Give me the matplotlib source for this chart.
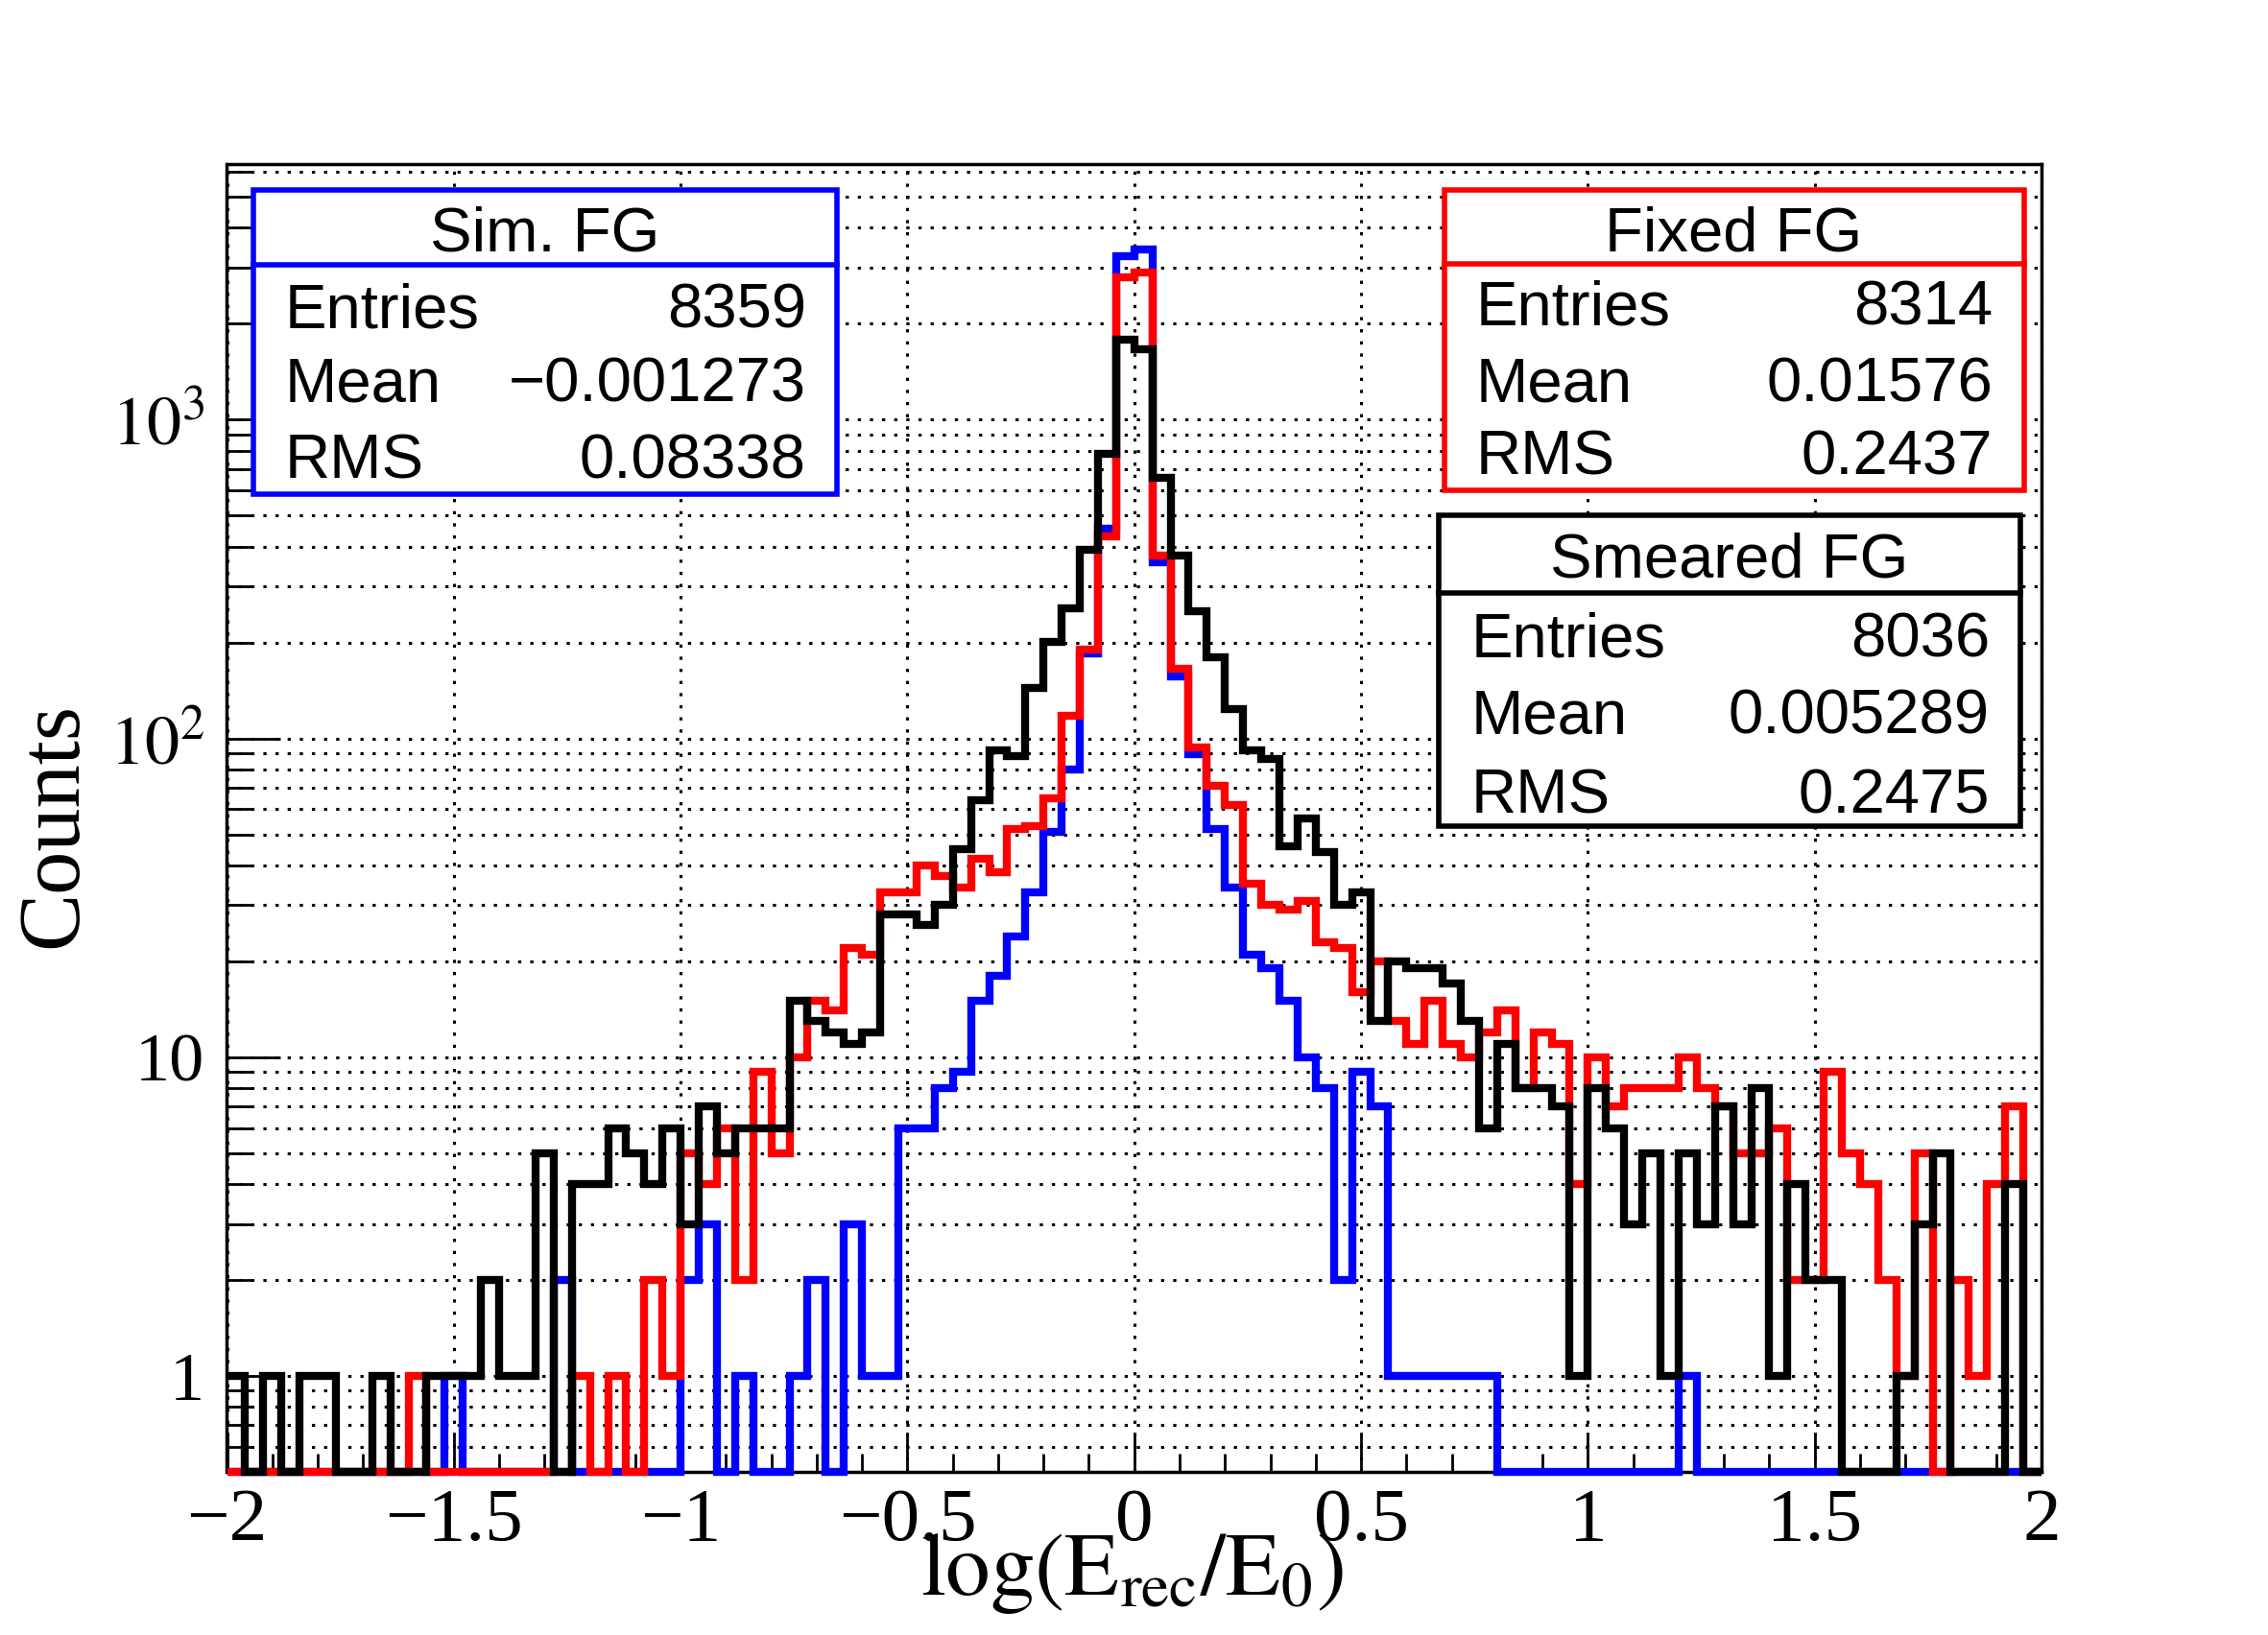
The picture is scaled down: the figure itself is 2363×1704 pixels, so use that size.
import numpy as np
import matplotlib
matplotlib.use('Agg')
import matplotlib.pyplot as plt
from matplotlib.ticker import FixedLocator, FixedFormatter, MultipleLocator, LogLocator, NullFormatter
from matplotlib.patches import Rectangle
from matplotlib.lines import Line2D

# 100 bins between -2 and 2
x_lo, x_hi, n_bins = -2.0, 2.0, 100

sim_fg = [0, 0, 0, 0, 0, 0, 0, 0, 0, 0,
          0, 0, 1, 0, 0, 0, 0, 0, 2, 0,
          0, 0, 0, 0, 0, 2, 3, 0, 1, 0,
          0, 1, 2, 0, 3, 1, 1, 6, 6, 8,
          9, 15, 18, 24, 33, 51, 80, 185, 456, 3258,
          3414, 356, 157, 89, 52, 34, 21, 19, 15, 10,
          8, 2, 9, 7, 1, 1, 1, 1, 1, 1,
          0, 0, 0, 0, 0, 0, 0, 0, 0, 0,
          1, 0, 0, 0, 0, 0, 0, 0, 0, 0,
          0, 0, 0, 0, 0, 0, 0, 0, 0, 0]

fixed_fg = [0, 0, 0, 0, 0, 0, 0, 0, 0, 0,
            1, 0, 0, 0, 0, 0, 0, 0, 0, 1,
            0, 1, 0, 2, 1, 5, 4, 6, 2, 9,
            5, 10, 15, 14, 22, 21, 33, 33, 40, 37,
            34, 42, 38, 52, 53, 65, 118, 190, 430, 2803,
            2900, 374, 165, 94, 71, 62, 35, 30, 29, 31,
            23, 22, 16, 20, 13, 11, 15, 11, 10, 12,
            14, 8, 12, 11, 4, 10, 7, 8, 8, 8,
            10, 8, 7, 5, 5, 6, 2, 2, 9, 5,
            4, 2, 1, 5, 0, 2, 1, 4, 7, 0]

smeared_fg = [1, 0, 1, 0, 1, 1, 0, 0, 1, 0,
              0, 1, 1, 1, 2, 1, 1, 5, 0, 4,
              4, 6, 5, 4, 6, 3, 7, 5, 6, 6,
              6, 15, 13, 12, 11, 12, 28, 28, 26, 30,
              45, 64, 92, 88, 144, 201, 256, 392, 784, 1786,
              1667, 659, 375, 250, 180, 124, 92, 86, 46, 56,
              44, 30, 33, 13, 20, 19, 19, 17, 13, 6,
              11, 8, 8, 7, 1, 8, 6, 3, 5, 1,
              5, 3, 7, 3, 8, 1, 4, 2, 2, 0,
              0, 0, 1, 3, 5, 0, 0, 0, 4, 0]

box_titles = ['Sim. FG', 'Fixed FG', 'Smeared FG']
box_entries = [8359, 8314, 8036]
box_means = [-0.001273, 0.01576, 0.005289]
box_rms = [0.08338, 0.2437, 0.2475]

xtick_vals = [-2, -1.5, -1, -0.5, 0, 0.5, 1, 1.5, 2]
xtick_text = ['\u22122', '\u22121.5', '\u22121', '\u22120.5', '0', '0.5', '1', '1.5', '2']
ytick_vals = [1, 10, 100, 1000]
ytick_text = ['1', '10', r'$10^{2}$', r'$10^{3}$']

plt.rcParams['font.family'] = 'Liberation Serif'
plt.rcParams['mathtext.fontset'] = 'stix'
plt.rcParams['lines.scale_dashes'] = False

W, H = 2363, 1704
fig = plt.figure(figsize=(W / 100, H / 100), dpi=100)
ax = fig.add_axes([236.5 / W, 1 - 1534 / H, (2127 - 236.5) / W, (1534 - 171) / H])

y_bottom, y_top = 0.5, 6340
edges = np.linspace(x_lo, x_hi, n_bins + 1)

# empty bins sit on the bottom of the frame, like ROOT does
for vals, col, z in [(sim_fg, 'blue', 3), (fixed_fg, 'red', 4), (smeared_fg, 'black', 5)]:
    v = np.asarray(vals, dtype=float)
    ax.stairs(np.where(v > 0, v, y_bottom), edges, baseline=None, color=col,
              lw=6, zorder=z, clip_on=False)

ax.set_yscale('log')
ax.set_xlim(x_lo, x_hi)
ax.set_ylim(y_bottom, y_top)

ax.xaxis.set_major_locator(FixedLocator(xtick_vals))
ax.xaxis.set_major_formatter(FixedFormatter(xtick_text))
ax.xaxis.set_minor_locator(MultipleLocator(0.1))
ax.yaxis.set_major_locator(FixedLocator(ytick_vals))
ax.yaxis.set_major_formatter(FixedFormatter(ytick_text))
ax.yaxis.set_minor_locator(LogLocator(base=10, subs=np.arange(2, 10), numticks=20))
ax.yaxis.set_minor_formatter(NullFormatter())

ax.tick_params(axis='x', which='major', direction='in', length=28, width=2,
               labelsize=57, pad=12, top=False)
ax.tick_params(axis='x', which='minor', direction='in', length=14, width=2, top=False)
ax.tick_params(axis='y', which='major', direction='in', length=40, width=2,
               labelsize=52, pad=17, right=False)
ax.tick_params(axis='y', which='minor', direction='in', length=19.5, width=2, right=False)

dots = (0, (2.4, 6.7))
ax.set_axisbelow(True)
ax.grid(True, which='major', axis='x', color='black', lw=2.2, linestyle=dots)
ax.grid(True, which='both', axis='y', color='black', lw=2.2, linestyle=dots)
for s in ax.spines.values():
    s.set_linewidth(2.5)

# axis titles
fig.text(57 / W, 1 - 860 / H, 'Counts', rotation=90, ha='center', va='center',
         fontsize=65, family='Liberation Serif')
fig.text(1180 / W, 1 - 1662 / H, r'$\mathrm{log(E_{rec}/E_{0})}$', ha='center',
         va='baseline', fontsize=67)


def fmt(x):
    return f'{x:.4g}'.replace('-', '\u2212')


def stat_box(i, color, x0, x1, ytop, ybot, ydiv, title_base, row_bases, xl, xr):
    fig.add_artist(Rectangle((x0 / W, 1 - ybot / H), (x1 - x0) / W, (ybot - ytop) / H,
                             transform=fig.transFigure, facecolor='white',
                             edgecolor=color, lw=4, zorder=10))
    fig.add_artist(Line2D([x0 / W, x1 / W], [1 - ydiv / H, 1 - ydiv / H],
                          transform=fig.transFigure, color=color, lw=4, zorder=11))
    fig.text((x0 + x1) / 2 / W, 1 - title_base / H, box_titles[i], ha='center',
             va='baseline', family='Liberation Sans', fontsize=47, zorder=12)
    rows = [('Entries', str(box_entries[i])), ('Mean', fmt(box_means[i])),
            ('RMS', fmt(box_rms[i]))]
    for (name, val), yb in zip(rows, row_bases):
        fig.text(xl / W, 1 - yb / H, name, ha='left', va='baseline',
                 family='Liberation Sans', fontsize=47, zorder=12)
        fig.text(xr / W, 1 - yb / H, val, ha='right', va='baseline',
                 family='Liberation Sans', fontsize=47, zorder=12)


stat_box(0, 'blue', 263.5, 872, 198, 515, 276, 262, [341.7, 418.3, 498.3], 297, 840)
stat_box(1, 'red', 1504.5, 2108.7, 198, 511, 275, 262, [338.5, 418.8, 494.7], 1538, 2076)
stat_box(2, 'black', 1499, 2104.5, 537, 861, 617.5, 602, [684.5, 764.8, 847.4], 1533, 2073)

fig.savefig('out.png', dpi=100)
